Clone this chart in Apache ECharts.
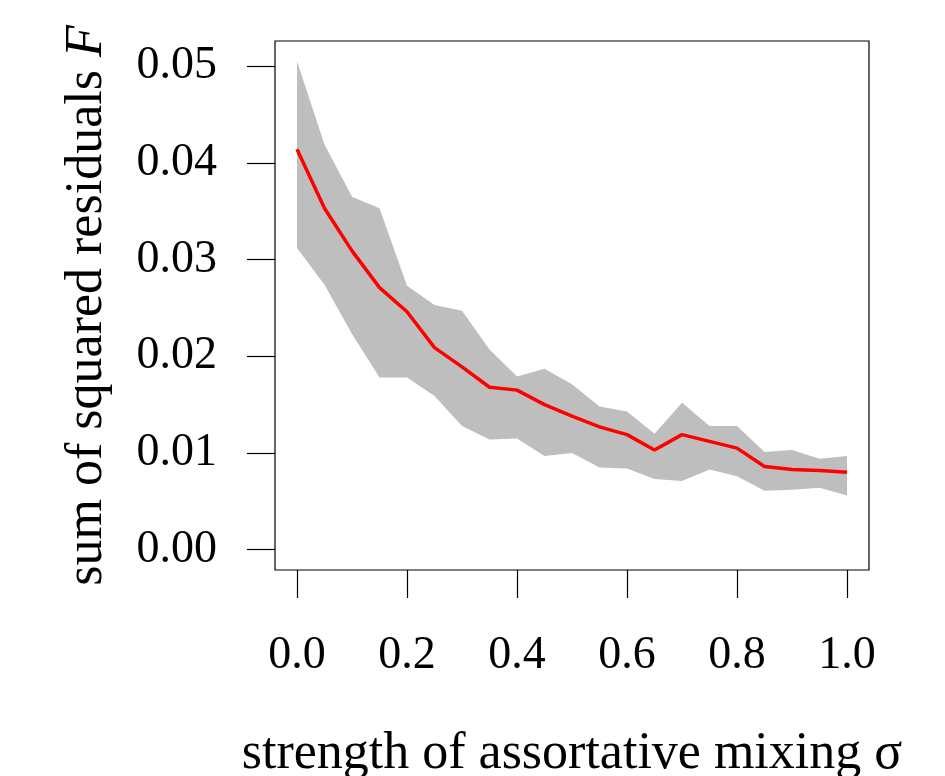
<!DOCTYPE html>
<html>
<head>
<meta charset="utf-8">
<script src="https://cdn.jsdelivr.net/npm/echarts@6/dist/echarts.min.js"></script>
<style>
  html, body { margin: 0; padding: 0; background: #fff; }
  #chart { width: 945px; height: 776px; }
</style>
</head>
<body>
<div id="chart"></div>
<script>
// strength of assortative mixing, 0 .. 1 in steps of 0.05
var sigma = [0, 0.05, 0.1, 0.15, 0.2, 0.25, 0.3, 0.35, 0.4, 0.45, 0.5,
             0.55, 0.6, 0.65, 0.7, 0.75, 0.8, 0.85, 0.9, 0.95, 1];
var meanF = [0.0414, 0.0353, 0.0309, 0.0271, 0.0246, 0.0209, 0.0189, 0.0168, 0.0165, 0.0150, 0.0138,
             0.0127, 0.0119, 0.0103, 0.0119, 0.0112, 0.0105, 0.0086, 0.0083, 0.0082, 0.0080];
var upperF = [0.0505, 0.0419, 0.0365, 0.0353, 0.0273, 0.0253, 0.0247, 0.0207, 0.0179, 0.0187, 0.0171,
              0.0148, 0.0143, 0.0120, 0.0152, 0.0128, 0.0128, 0.0101, 0.0103, 0.0094, 0.0097];
var lowerF = [0.0312, 0.0274, 0.0223, 0.0178, 0.0178, 0.0159, 0.0128, 0.0114, 0.0115, 0.0097, 0.0100,
              0.0085, 0.0084, 0.0073, 0.0071, 0.0083, 0.0076, 0.0061, 0.0062, 0.0064, 0.0056];
var xTicks = [0, 0.2, 0.4, 0.6, 0.8, 1];
var yTicks = [0, 0.01, 0.02, 0.03, 0.04, 0.05];

var font = "Liberation Serif";

function pairs(ys) {
    return sigma.map(function (s, i) { return [s, ys[i]]; });
}

// grey band: one polygon, upper edge left to right then lower edge back
function renderBand(params, api) {
    var pts = [];
    for (var i = 0; i < sigma.length; i++) {
        pts.push(api.coord([sigma[i], upperF[i]]));
    }
    for (var j = sigma.length - 1; j >= 0; j--) {
        pts.push(api.coord([sigma[j], lowerF[j]]));
    }
    return {
        type: "polygon",
        shape: { points: pts },
        style: { fill: "#bebebe", stroke: null }
    };
}

var chart = echarts.init(document.getElementById("chart"));
var option = {
    backgroundColor: "#fff",
    animation: false,
    grid: {
        left: 275,
        top: 41,
        width: 594,
        height: 529,
        outerBoundsMode: "none",
        containLabel: false,
        show: true,
        borderColor: "#000",
        borderWidth: 1.2,
        backgroundColor: "transparent"
    },
    xAxis: {
        type: "value",
        min: -0.04,
        max: 1.04,
        axisLine: { show: false, onZero: false },
        splitLine: { show: false },
        axisTick: {
            show: true,
            customValues: xTicks,
            length: 28,
            lineStyle: { color: "#000", width: 1.2 }
        },
        axisLabel: {
            customValues: xTicks,
            margin: 63,
            color: "#000",
            fontFamily: font,
            fontSize: 46,
            formatter: function (v) { return v.toFixed(1); }
        },
        name: "strength of assortative mixing σ",
        nameLocation: "middle",
        nameGap: 158,
        nameTextStyle: { color: "#000", fontFamily: font, fontSize: 52 }
    },
    yAxis: {
        type: "value",
        min: -0.0021,
        max: 0.0526,
        axisLine: { show: false, onZero: false },
        splitLine: { show: false },
        axisTick: {
            show: true,
            customValues: yTicks,
            length: 28,
            lineStyle: { color: "#000", width: 1.2 }
        },
        axisLabel: {
            customValues: yTicks,
            margin: 58,
            color: "#000",
            fontFamily: font,
            fontSize: 46,
            formatter: function (v) { return v.toFixed(2); }
        },
        name: "sum of squared residuals {i|F}",
        nameLocation: "middle",
        nameGap: 162,
        nameTextStyle: {
            color: "#000", fontFamily: font, fontSize: 52,
            rich: { i: { fontStyle: "italic", fontFamily: font, fontSize: 52, color: "#000" } }
        }
    },
    series: [
        {
            name: "band",
            type: "custom",
            data: [[0, 0]],
            renderItem: renderBand,
            silent: true,
            z: 1
        },
        {
            name: "mean",
            type: "line",
            data: pairs(meanF),
            symbol: "none",
            lineStyle: { color: "#ff0000", width: 3.5 },
            z: 5
        }
    ]
};
chart.setOption(option);

window.onresize = function () {
    chart.resize();
};
</script>
</body>
</html>
